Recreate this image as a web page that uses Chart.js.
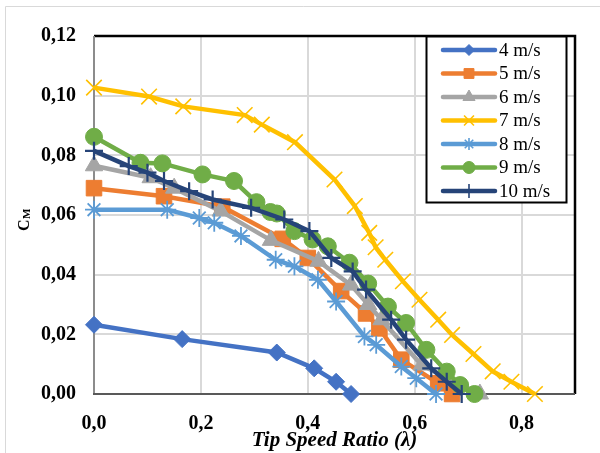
<!DOCTYPE html>
<html>
<head>
<meta charset="utf-8">
<script src="https://cdn.jsdelivr.net/npm/chart.js@4.4.1/dist/chart.umd.min.js"></script>
<style>
  html, body { margin: 0; padding: 0; background: #fff; }
</style>
</head>
<body>
<canvas id="cmChart" width="600" height="453"></canvas>
<script>
// wind speeds (legend labels)
const speeds = ['4 m/s', '5 m/s', '6 m/s', '7 m/s', '8 m/s', '9 m/s', '10 m/s'];

// tip speed ratio (x) and moment coefficient (y) for each wind speed
const tsr4 = [0, 0.165, 0.342, 0.412, 0.453, 0.481];
const cm4 = [0.0232, 0.0184, 0.0139, 0.0086, 0.0041, 0.0];

const tsr5 = [0, 0.131, 0.240, 0.353, 0.400, 0.4625, 0.509, 0.534, 0.575, 0.644, 0.670];
const cm5 = [0.0690, 0.0663, 0.0628, 0.0520, 0.0456, 0.0345, 0.0270, 0.0220, 0.0115, 0.0036, 0.0];

const tsr6 = [0, 0.106, 0.150, 0.237, 0.331, 0.420, 0.481, 0.513, 0.538, 0.613, 0.722];
const cm6 = [0.0765, 0.0725, 0.0690, 0.0613, 0.0515, 0.0445, 0.0365, 0.0300, 0.0249, 0.0097, 0.0];

const tsr7 = [0, 0.103, 0.167, 0.282, 0.314, 0.376, 0.450, 0.488, 0.515, 0.527, 0.545, 0.578, 0.609, 0.644, 0.670, 0.710, 0.746, 0.781, 0.825];
const cm7 = [0.1027, 0.0997, 0.0964, 0.0935, 0.0903, 0.0844, 0.0719, 0.0630, 0.0540, 0.0492, 0.0450, 0.0378, 0.0316, 0.0249, 0.0198, 0.0134, 0.0076, 0.0041, 0.0];

const tsr8 = [0, 0.137, 0.197, 0.225, 0.275, 0.340, 0.375, 0.419, 0.453, 0.506, 0.528, 0.575, 0.603, 0.640];
const cm8 = [0.0618, 0.0618, 0.0590, 0.0574, 0.0530, 0.0450, 0.0428, 0.0383, 0.0310, 0.0193, 0.0165, 0.0092, 0.0053, 0.0];

const tsr9 = [0, 0.087, 0.128, 0.203, 0.262, 0.304, 0.330, 0.342, 0.375, 0.409, 0.4375, 0.478, 0.513, 0.550, 0.584, 0.622, 0.660, 0.685, 0.712];
const cm9 = [0.0862, 0.0775, 0.0773, 0.0736, 0.0714, 0.0643, 0.0610, 0.0605, 0.0546, 0.0518, 0.0495, 0.0440, 0.0370, 0.0293, 0.0238, 0.0148, 0.0075, 0.0030, 0.0];

const tsr10 = [0, 0.065, 0.100, 0.131, 0.178, 0.222, 0.294, 0.356, 0.403, 0.444, 0.484, 0.509, 0.556, 0.584, 0.631, 0.660, 0.688];
const cm10 = [0.0815, 0.0764, 0.0742, 0.0714, 0.0680, 0.0652, 0.0624, 0.0585, 0.0546, 0.0456, 0.0411, 0.0350, 0.0249, 0.0182, 0.0086, 0.0041, 0.0];

// axis ticks
const xTicks = [0, 0.2, 0.4, 0.6, 0.8];
const yTicks = [0, 0.02, 0.04, 0.06, 0.08, 0.10, 0.12];

const xs = [tsr4, tsr5, tsr6, tsr7, tsr8, tsr9, tsr10];
const ys = [cm4, cm5, cm6, cm7, cm8, cm9, cm10];

const colors = ['#4472C4', '#ED7D31', '#A5A5A5', '#FFC000', '#5B9BD5', '#70AD47', '#264478'];
const markers = ['rectRot', 'rect', 'triangle', 'crossRot', 'star', 'circle', 'cross'];
const radii = [8.5, 11, 10, 11, 9, 8.5, 9];
const markerLine = [1, 1, 1, 1.6, 1.8, 1, 2.2];
const legendRadii = [5.5, 7, 7, 7, 6, 6, 7];

const serif = '"Liberation Serif", "Times New Roman", serif';

const datasets = speeds.map((label, i) => ({
    label: label,
    data: xs[i].map((x, j) => ({ x: x, y: ys[i][j] })),
    borderColor: colors[i],
    backgroundColor: colors[i],
    borderWidth: 4.5,
    pointStyle: markers[i],
    pointRadius: radii[i],
    pointHoverRadius: radii[i],
    pointBackgroundColor: colors[i],
    pointBorderColor: colors[i],
    pointBorderWidth: markerLine[i],
    tension: 0,
    clip: false,
    order: speeds.length - i
}));

// plot frame: grey left axis, dark bottom axis, black top/right edge
const framePlugin = {
    id: 'frame',
    beforeDraw(chart) {
        const ctx = chart.ctx;
        ctx.save();
        ctx.strokeStyle = '#D9D9D9';
        ctx.lineWidth = 1;
        ctx.beginPath();
        ctx.moveTo(5.5, 460);
        ctx.lineTo(5.5, 6.5);
        ctx.lineTo(610, 6.5);
        ctx.stroke();
        ctx.restore();
    },
    beforeDatasetsDraw(chart) {
        const a = chart.chartArea;
        const ctx = chart.ctx;
        ctx.save();
        ctx.lineWidth = 2.5;
        ctx.strokeStyle = '#000';
        ctx.beginPath();
        ctx.moveTo(a.left, a.top);
        ctx.lineTo(a.right, a.top);
        ctx.lineTo(a.right, a.bottom);
        ctx.stroke();
        ctx.lineWidth = 2;
        ctx.strokeStyle = '#8C8C8C';
        ctx.beginPath();
        ctx.moveTo(a.left, a.top);
        ctx.lineTo(a.left, a.bottom);
        ctx.stroke();
        ctx.strokeStyle = '#595959';
        ctx.beginPath();
        ctx.moveTo(a.left - 1, a.bottom);
        ctx.lineTo(a.right, a.bottom);
        ctx.stroke();
        ctx.restore();
    },
    afterDraw(chart) {
        const ctx = chart.ctx;
        // y title: C with subscript M
        ctx.save();
        ctx.translate(29, 231);
        ctx.rotate(-Math.PI / 2);
        ctx.fillStyle = '#000';
        ctx.textBaseline = 'alphabetic';
        ctx.font = 'bold 16px ' + serif;
        ctx.fillText('C', 0, 0);
        const w = ctx.measureText('C').width;
        ctx.font = 'bold 11px ' + serif;
        ctx.fillText('M', w + 0.5, 1);
        ctx.restore();
    }
};

// legend box inside the plot
const legendPlugin = {
    id: 'boxLegend',
    afterDatasetsDraw(chart) {
        const ctx = chart.ctx;
        const left = 426.5, top = 36.5, width = 140, height = 166;
        ctx.save();
        ctx.fillStyle = '#fff';
        ctx.fillRect(left, top, width, height);
        ctx.lineWidth = 2;
        ctx.strokeStyle = '#000';
        ctx.strokeRect(left, top, width, height);
        chart.data.datasets.forEach((ds, i) => {
            const y = 50 + i * 23.5;
            ctx.strokeStyle = ds.borderColor;
            ctx.lineWidth = 4.5;
            ctx.lineCap = 'round';
            ctx.beginPath();
            ctx.moveTo(443, y);
            ctx.lineTo(495, y);
            ctx.stroke();
            ctx.lineCap = 'butt';
            ctx.fillStyle = ds.pointBackgroundColor;
            ctx.strokeStyle = ds.pointBorderColor;
            ctx.lineWidth = markers[i] === 'cross' || markers[i] === 'crossRot' || markers[i] === 'star' ? 1.6 : 1;
            Chart.helpers.drawPoint(ctx, {
                pointStyle: ds.pointStyle,
                radius: legendRadii[i],
                rotation: 0,
                borderWidth: ctx.lineWidth
            }, 469, y);
            ctx.fillStyle = '#000';
            ctx.font = '19px ' + serif;
            ctx.textBaseline = 'middle';
            ctx.fillText(ds.label, 499, y + 1);
        });
        ctx.restore();
    }
};

const ctx = document.getElementById('cmChart').getContext('2d');
const cmChart = new Chart(ctx, {
    type: 'line',
    data: { datasets: datasets },
    options: {
        responsive: false,
        animation: false,
        devicePixelRatio: 1,
        layout: {
            autoPadding: false,
            padding: { left: 0, right: 25, top: 36, bottom: 0 }
        },
        plugins: {
            legend: { display: false },
            tooltip: { enabled: false }
        },
        scales: {
            x: {
                type: 'linear',
                min: 0,
                max: 0.9,
                afterBuildTicks: s => { s.ticks = xTicks.map(v => ({ value: v })); },
                afterFit: s => { s.height = 59; },
                grid: {
                    color: c => (c.tick && c.tick.value === 0) ? 'rgba(0,0,0,0)' : '#D9D9D9',
                    lineWidth: 2,
                    drawTicks: false
                },
                border: { display: false },
                ticks: {
                    padding: 18,
                    color: '#000',
                    font: { family: serif, size: 20, weight: 'bold' },
                    callback: v => v.toFixed(1).replace('.', ',')
                },
                title: {
                    display: true,
                    text: 'Tip Speed Ratio (λ)',
                    color: '#000',
                    font: { family: serif, size: 21, weight: 'bold', style: 'italic' },
                    padding: { top: 0, bottom: 0 }
                }
            },
            y: {
                type: 'linear',
                min: 0,
                max: 0.12,
                afterBuildTicks: s => { s.ticks = yTicks.map(v => ({ value: v })); },
                afterFit: s => { s.width = 94; },
                grid: {
                    color: c => (c.tick && (c.tick.value === 0 || c.tick.value === 0.12)) ? 'rgba(0,0,0,0)' : '#D9D9D9',
                    lineWidth: 2,
                    drawTicks: false
                },
                border: { display: false },
                ticks: {
                    padding: 18,
                    color: '#000',
                    font: { family: serif, size: 20, weight: 'bold' },
                    callback: v => v.toFixed(2).replace('.', ',')
                }
            }
        }
    },
    plugins: [framePlugin, legendPlugin]
});
</script>
</body>
</html>
